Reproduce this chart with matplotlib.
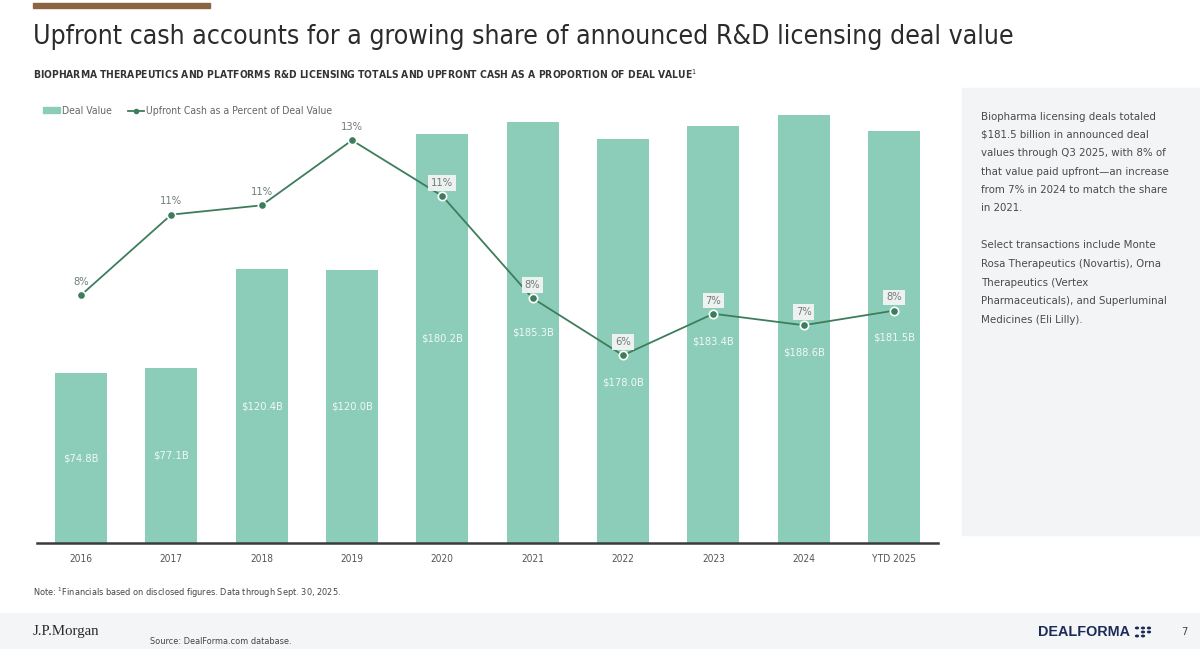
import matplotlib
matplotlib.use("Agg")
import matplotlib.pyplot as plt
from matplotlib import font_manager as fm
from matplotlib.patches import Rectangle, Patch
from matplotlib.lines import Line2D
import numpy as np

years = ["2016", "2017", "2018", "2019", "2020", "2021", "2022", "2023", "2024", "YTD 2025"]
deal_value = [74.8, 77.1, 120.4, 120.0, 180.2, 185.3, 178.0, 183.4, 188.6, 181.5]
upfront_pct = [8.0, 10.6, 10.9, 13.0, 11.2, 7.9, 6.06, 7.4, 7.03, 7.5]

title = "Upfront cash accounts for a growing share of announced R&D licensing deal value"
subtitle = ("BIOPHARMA THERAPEUTICS AND PLATFORMS R&D LICENSING TOTALS AND UPFRONT CASH "
            "AS A PROPORTION OF DEAL VALUE$^1$")
side_para1 = ["Biopharma licensing deals totaled",
              "$181.5 billion in announced deal",
              "values through Q3 2025, with 8% of",
              "that value paid upfront\u2014an increase",
              "from 7% in 2024 to match the share",
              "in 2021."]
side_para2 = ["Select transactions include Monte",
              "Rosa Therapeutics (Novartis), Orna",
              "Therapeutics (Vertex",
              "Pharmaceuticals), and Superluminal",
              "Medicines (Eli Lilly)."]
note = "Note: $^1$Financials based on disclosed figures. Data through Sept. 30, 2025."
source = "Source: DealForma.com database."

fonts = fm.fontManager.ttflist
narrow = [f for f in fonts if f.name == "Liberation Sans Narrow"]
dv_cond = [f for f in fonts if f.name == "DejaVu Sans" and f.stretch == "condensed"]
if narrow:
    FONT = "Liberation Sans Narrow"
elif dv_cond:
    FONT = "DejaVu Sans"
    plt.rcParams["font.stretch"] = "condensed"
else:
    FONT = "Roboto"
plt.rcParams["font.family"] = [FONT, "DejaVu Sans"]
plt.rcParams["mathtext.fontset"] = "custom"
plt.rcParams["mathtext.rm"] = FONT

BAR = "#8ccdb9"
LINE = "#3e7d5c"
GREY = "#6f7d77"

W, H = 1200, 649
fig = plt.figure(figsize=(W / 100, H / 100), dpi=100)


def fx(px):
    return px / W


def fy(py):
    return 1 - py / H


renderer = fig.canvas.get_renderer()


def fit(t, width_px):
    w = t.get_window_extent(renderer).width
    t.set_fontsize(t.get_fontsize() * width_px / w)


# header bar
fig.patches.append(Rectangle((fx(33), fy(8)), fx(177), 5 / H, transform=fig.transFigure,
                             color="#8b6542", zorder=0))
t = fig.text(fx(33), fy(37), title, fontsize=24, color="#2b2b2b", va="center")
fit(t, 982)
t = fig.text(fx(33), fy(74), subtitle, fontsize=8, color="#333333", va="center", weight="bold")
fit(t, 662)

# side panel
fig.patches.append(Rectangle((fx(962), fy(535)), fx(238), 447 / H, transform=fig.transFigure,
                             color="#f3f4f6", zorder=0))
t0 = fig.text(fx(981), fy(116.5), side_para1[0], fontsize=10, color="#4a4a4a", va="center")
fit(t0, 174)
fs_side = t0.get_fontsize()
for i, line in enumerate(side_para1[1:], 1):
    fig.text(fx(981), fy(116.5 + i * 18.35), line, fontsize=fs_side, color="#4a4a4a", va="center")
for i, line in enumerate(side_para2):
    fig.text(fx(981), fy(245.5 + i * 18.6), line, fontsize=fs_side, color="#4a4a4a", va="center")

# footer
fig.patches.append(Rectangle((0, 0), 1, 36 / H, transform=fig.transFigure,
                             color="#f4f5f7", zorder=0))
fig.text(fx(33), fy(593), note, fontsize=6.6, color="#444444", va="center")
fig.text(fx(150), fy(641), source, fontsize=6.6, color="#444444", va="center")
t = fig.text(fx(33), fy(632), "J.P.Morgan", fontsize=12, color="#2a2a2a", va="center",
             family="Liberation Serif", stretch="normal")
fit(t, 67)
t = fig.text(fx(1038), fy(632), "DEALFORMA", fontsize=12, color="#1c2b5a", va="center",
             weight="bold", family="Liberation Sans", stretch="normal")
fit(t, 92)
for dx, dy in [(0, -4), (6, -4), (12, -4), (6, 0), (12, 0), (0, 4), (6, 4)]:
    fig.patches.append(plt.Circle((fx(1137 + dx), fy(632 + dy)), 1.4 / W,
                                  transform=fig.transFigure, color="#1c2b5a"))
fig.text(fx(1181), fy(632), "7", fontsize=8, color="#444444", va="center")

# chart
ax = fig.add_axes([fx(37), fy(543), fx(938 - 37), (543 - 100) / H])
x = np.arange(len(years))
bar_top = 195.0
pct_top = 14.3
ax.bar(x, deal_value, width=0.575, color=BAR, zorder=1)
ax.set_xlim(-0.487, 9.487)
ax.set_ylim(0, bar_top)
ax.set_yticks([])
ax.set_xticks(x)
ax.set_xticklabels(years, fontsize=7.3, color="#555555")
ax.tick_params(axis="x", length=0, pad=8)
for s in ["top", "right", "left"]:
    ax.spines[s].set_visible(False)
ax.spines["bottom"].set_color("#3a3a3a")
ax.spines["bottom"].set_linewidth(1.8)
ax.spines["bottom"].set_zorder(5)

ax2 = ax.twinx()
ax2.set_ylim(0, pct_top)
ax2.axis("off")
ax2.plot(x, upfront_pct, color=LINE, lw=1.3, marker="o", ms=6, mfc=LINE, mec="white",
         mew=1.2, zorder=3)

ratio = bar_top / pct_top
for i, (v, p) in enumerate(zip(deal_value, upfront_pct)):
    ly = min(v / 2, p * ratio - 12)
    ax.text(i, ly, f"${v:.1f}B", ha="center", va="center", fontsize=8, color="#f0f8f5", zorder=2)
    if i < 4:
        box = None
    else:
        box = dict(boxstyle="square,pad=0.25", fc="#f3f4f3", ec="none", alpha=0.95)
    ax2.annotate(f"{p:.0f}%", (i, p), xytext=(0, 9.5), textcoords="offset points",
                 ha="center", va="center", fontsize=8, color=GREY, bbox=box, zorder=4)

handles = [Patch(color=BAR),
           Line2D([], [], color=LINE, lw=1.3, marker="o", ms=3, mfc=LINE, mec=LINE)]
fig.legend(handles, ["Deal Value", "Upfront Cash as a Percent of Deal Value"],
           loc="center left", bbox_to_anchor=(fx(34), fy(111)), ncol=2, frameon=False,
           fontsize=7.5, labelcolor="#666666", handlelength=1.6, handleheight=0.45,
           handletextpad=0.2, columnspacing=1.5)

fig.savefig("out.png", dpi=100)
